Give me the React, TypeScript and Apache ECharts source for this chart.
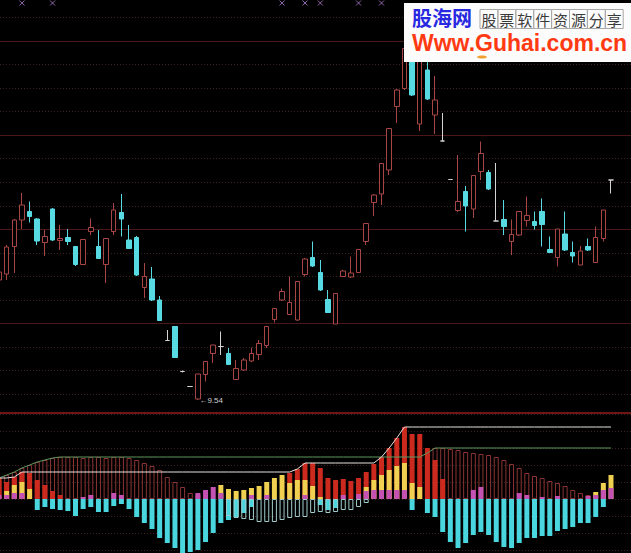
import React, { useEffect, useRef } from "react";
import * as echarts from "echarts";

// ---- Candles (price) ----
const days = Array.from({ length: 81 }, (_, i) => `D${i + 1}`);

const open = [11.94, 12.06, 12.61, 13.14, 13.31, 13.16, 12.69, 13.36, 12.73, 12.79,
  12.61, 12.25, 12.91, 12.61, 12.25, 12.91, 13.29, 12.74, 12.79, 11.79,
  11.96, 11.54, 10.73, 11.01, 10.11, 9.81, 9.56, 10.05, 10.47, 10.61,
  10.47, 9.95, 10.14, 10.32, 10.45, 10.63, 11.15, 11.54, 11.25, 11.14,
  12.05, 12.39, 12.09, 11.55, 11.06, 12.01, 12.0, 12.09, 12.71, 13.49,
  13.66, 14.14, 15.41, 15.77, 16.44, 15.06, 16.14, 15.24, 14.72, 13.95,
  13.33, 13.71, 13.36, 14.11, 14.09, 13.12, 13.15, 12.71, 12.84, 13.13,
  13.11, 13.31, 12.55, 12.39, 12.86, 12.49, 12.24, 12.61, 12.29, 12.77,
  13.94];
const close = [12.1, 12.6, 13.14, 13.44, 13.21, 12.72, 12.81, 12.74, 12.77, 12.71,
  12.25, 12.75, 12.99, 12.37, 12.77, 13.34, 13.16, 12.57, 12.04, 12.01,
  11.54, 11.13, 10.73, 10.39, 10.11, 9.81, 10.06, 10.31, 10.64, 10.61,
  10.25, 10.17, 10.34, 10.47, 10.67, 11.01, 11.37, 11.71, 11.49, 11.91,
  12.36, 12.22, 11.74, 11.29, 11.67, 12.12, 12.08, 12.55, 13.07, 13.64,
  14.27, 14.97, 15.74, 16.57, 15.64, 16.74, 15.56, 15.54, 14.72, 13.95,
  13.51, 13.42, 14.03, 14.47, 13.76, 13.12, 13.01, 12.85, 13.31, 13.23,
  13.03, 13.05, 12.49, 12.96, 12.54, 12.42, 12.52, 12.54, 12.79, 13.34,
  13.94];
const low = [11.9, 11.94, 12.08, 12.96, 13.09, 12.64, 12.42, 12.72, 12.54, 12.64,
  12.22, 12.24, 12.84, 12.36, 11.88, 12.84, 12.81, 12.56, 12.02, 11.58,
  11.52, 11.12, 10.73, 10.38, 10.09, 9.81, 9.54, 9.91, 10.28, 10.44,
  10.24, 9.94, 10.12, 10.3, 10.34, 10.58, 11.09, 11.52, 11.24, 11.12,
  12.01, 12.2, 11.72, 11.28, 11.06, 12.0, 11.98, 12.08, 12.64, 13.22,
  13.44, 14.04, 15.08, 15.74, 15.62, 14.92, 15.54, 14.86, 14.72, 13.95,
  13.3, 12.91, 13.18, 13.94, 13.74, 13.12, 12.84, 12.44, 12.82, 13.01,
  12.95, 12.61, 12.48, 12.21, 12.52, 12.29, 12.24, 12.52, 12.28, 12.71,
  13.67];
const high = [12.14, 12.64, 13.16, 13.68, 13.51, 13.18, 12.94, 13.38, 13.04, 12.96,
  12.62, 12.76, 13.17, 12.94, 12.78, 13.48, 13.66, 13.04, 12.82, 12.28,
  12.2, 11.62, 10.94, 11.02, 10.13, 9.81, 10.06, 10.32, 10.64, 10.91,
  10.58, 10.34, 10.38, 10.59, 10.74, 11.02, 11.38, 11.77, 12.01, 11.92,
  12.38, 12.71, 12.34, 11.74, 11.68, 12.14, 12.41, 12.56, 13.08, 13.66,
  14.28, 14.98, 15.76, 16.6, 16.54, 16.94, 16.44, 16.02, 15.28, 13.95,
  14.44, 13.82, 14.04, 14.71, 14.14, 14.28, 13.54, 13.15, 13.32, 13.61,
  13.31, 13.57, 12.81, 12.96, 13.31, 12.71, 12.62, 12.77, 13.01, 13.34,
  13.94];

// top-edge signal marks
const markerIdx = [3, 7, 37, 40, 42, 47, 50];
const markerPrice = [17.48, 17.48, 17.48, 17.48, 17.48, 17.48, 17.48];

// ---- Indicator panel ----
const hollowRed = [0.21, 0.24, 0.27, 0.31, 0.34, 0.37, 0.39, 0.41, 0.42, 0.42,
  0.42, 0.41, 0.42, 0.42, 0.41, 0.42, 0.42, 0.41, 0.39, 0.36,
  0.33, 0.29, 0.22, 0.17, 0.12, 0.06, 0.04, null, null, null,
  null, null, null, null, null, null, null, null, null, null,
  null, null, null, null, null, null, null, null, null, null,
  null, null, null, null, null, null, 0.46, 0.51, 0.51, 0.5,
  0.49, 0.47, 0.46, 0.45, 0.44, 0.42, 0.39, 0.35, 0.31, 0.26,
  0.23, 0.21, 0.18, 0.16, 0.13, 0.09, 0.06, 0.04, 0.04, null,
  null];
const redFill = [0.21, 0.17, 0.22, 0.27, 0.26, 0.19, 0.14, 0.08, 0.04, null,
  null, null, null, null, null, null, null, null, null, null,
  null, null, null, null, null, null, null, null, null, null,
  null, null, null, null, null, null, null, null, 0.26, 0.3,
  0.36, 0.36, 0.31, 0.21, 0.19, 0.2, 0.18, 0.21, 0.27, 0.35,
  0.42, 0.51, 0.61, 0.72, 0.65, 0.65, 0.51, 0.39, 0.2, null,
  null, null, null, null, null, null, null, null, null, null,
  null, null, null, null, null, null, null, null, null, null,
  null];
const yellowBar = [null, 0.08, 0.14, 0.17, 0.1, null, null, null, null, null,
  null, null, null, null, null, null, null, null, null, null,
  null, null, null, null, null, null, null, null, null, 0.14,
  0.1, 0.08, 0.09, 0.11, 0.13, 0.17, 0.21, 0.24, 0.16, 0.19,
  0.19, 0.13, 0.02, null, null, null, null, null, 0.12, 0.19,
  0.24, 0.29, 0.33, 0.36, 0.16, 0.12, null, null, null, null,
  null, null, null, null, null, null, null, null, null, null,
  null, null, null, null, null, null, null, null, 0.07, 0.16,
  0.24];
const magentaBar = [0.04, 0.04, 0.06, 0.06, null, null, null, null, null, null,
  null, 0.02, 0.04, null, null, 0.06, 0.04, null, null, null,
  null, null, null, null, null, null, 0.06, 0.09, 0.12, 0.06,
  null, null, null, 0.04, null, 0.04, null, null, null, null,
  0.04, null, null, null, null, 0.04, null, 0.05, 0.08, 0.09,
  0.09, 0.09, 0.09, 0.09, null, null, null, null, null, null,
  null, null, 0.09, 0.12, null, null, null, null, 0.06, 0.04,
  null, 0.02, null, 0.03, null, null, null, 0.03, 0.04, 0.09,
  0.11];
const cyanBar = [null, null, null, null, null, -0.11, -0.08, -0.1, -0.11, -0.12,
  -0.17, -0.1, -0.08, -0.13, -0.13, -0.07, -0.05, -0.1, -0.18, -0.24,
  -0.3, -0.39, -0.44, -0.49, -0.57, -0.53, -0.51, -0.43, -0.34, -0.24,
  -0.21, -0.18, -0.14, -0.08, null, null, null, null, null, null,
  null, null, -0.06, -0.11, -0.09, null, null, null, null, null,
  null, null, null, null, -0.11, null, -0.14, -0.18, -0.33, -0.43,
  -0.49, -0.44, -0.36, -0.33, -0.36, -0.43, -0.48, -0.49, -0.44, -0.39,
  -0.39, -0.37, -0.37, -0.32, -0.3, -0.28, -0.24, -0.24, -0.18, -0.08,
  null];
const hollowCyan = [null, null, null, null, null, null, null, null, null, null,
  null, null, null, null, null, null, null, null, null, null,
  null, null, null, null, null, null, null, null, null, null,
  -0.17, -0.19, -0.2, -0.21, -0.23, -0.23, -0.23, -0.21, -0.19, -0.18,
  -0.18, -0.14, -0.13, -0.14, -0.13, -0.11, -0.11, -0.08, -0.04, null,
  null, null, null, null, null, null, null, null, null, null,
  null, null, null, null, null, null, null, null, null, null,
  null, null, null, null, null, null, null, null, null, null,
  null];

const logoTitle = "股海网";
const logoCells = "股票软件资源分享".split("");
const logoUrl = "Www.Guhai.com.cn";

const cumMax = (arr: (number | null)[]) => {
  let m = -Infinity;
  return arr.map((v) => {
    if (v != null && v > m) m = v;
    return m === -Infinity ? null : m;
  });
};

const GL = -4.825;
const GW = 619.65;
const hiddenAxisParts = { axisLine: { show: false }, axisTick: { show: false }, axisLabel: { show: false } };

function buildOption() {
  const lowIdx = low.indexOf(Math.min(...low));
  const barBase = { xAxisIndex: 1, yAxisIndex: 1, barWidth: 5, barGap: "-100%" };
  const cellW = 17.9;
  const cellX0 = 480;
  const graphics: any[] = [
    { type: "line", z: 50, shape: { x1: 0, y1: 413, x2: 631, y2: 413 }, style: { stroke: "#6e1616", lineWidth: 2 } },
    { type: "rect", z: 100, shape: { x: 404, y: 3, width: 227, height: 59 }, style: { fill: "#fcfcfc" } },
    { type: "ellipse", z: 101, shape: { cx: 482, cy: 57, rx: 5, ry: 1.5 }, style: { fill: "#f0a030" } },
    {
      type: "text", z: 101, x: 412, y: 18.5,
      style: {
        text: logoTitle, font: 'bold 20px "Liberation Sans", "Noto Sans CJK SC"', lineHeight: 20, fill: "#2828e0",
        textVerticalAlign: "middle", verticalAlign: "middle",
      },
    },
    {
      type: "text", z: 101, x: 412, y: 43,
      style: {
        text: logoUrl, font: 'bold 23px "Liberation Sans"', lineHeight: 20, fill: "#ff3a12",
        textVerticalAlign: "middle", verticalAlign: "middle",
      },
    },
  ];
  logoCells.forEach((c, k) => {
    graphics.push({
      type: "rect", z: 101,
      shape: { x: cellX0 + k * cellW, y: 9.5, width: cellW, height: 19 },
      style: { fill: "none", stroke: "#a8a8a8", lineWidth: 1 },
    });
    graphics.push({
      type: "text", z: 102, x: cellX0 + k * cellW + cellW / 2, y: 19,
      style: {
        text: c, font: '15px "Noto Sans CJK SC"', lineHeight: 16, fill: "#3a3a3a",
        textAlign: "center", align: "center", textVerticalAlign: "middle", verticalAlign: "middle",
      },
    });
  });

  return {
    backgroundColor: "#000000",
    animation: false,
    grid: [
      { left: GL, width: GW, top: -6, height: 426, outerBoundsMode: "none" },
      { left: GL, width: GW, top: 414, height: 139, outerBoundsMode: "none" },
      { left: 0, right: 0, top: -6, height: 400, outerBoundsMode: "none" },
      { left: 0, right: 0, top: 41.06, height: 282.35, outerBoundsMode: "none" },
      { left: 0, right: 0, top: 414, height: 136, outerBoundsMode: "none" },
    ],
    xAxis: [
      { type: "category", gridIndex: 0, data: days, show: false },
      { type: "category", gridIndex: 1, data: days, show: false },
      { type: "value", gridIndex: 2, min: 0, max: 1, show: false },
      { type: "value", gridIndex: 3, min: 0, max: 1, show: false },
      { type: "value", gridIndex: 4, min: 0, max: 1, show: false },
    ],
    yAxis: [
      { type: "value", gridIndex: 0, min: 9.14, max: 17.66, show: false },
      { type: "value", gridIndex: 1, min: -0.54, max: 0.85, show: false },
      {
        type: "value", gridIndex: 2, min: 0, max: 17, interval: 1, ...hiddenAxisParts,
        splitLine: { show: true, lineStyle: { color: "#3e2222", width: 1, type: [1, 2] } },
      },
      {
        type: "value", gridIndex: 3, min: 0, max: 12, interval: 4, ...hiddenAxisParts,
        splitLine: { show: true, lineStyle: { color: "#4a1818", width: 1, type: "solid" } },
      },
      {
        type: "value", gridIndex: 4, min: 0, max: 8, interval: 1, ...hiddenAxisParts,
        splitLine: { show: true, lineStyle: { color: "#3e2222", width: 1, type: [1, 2] } },
      },
    ],
    graphic: graphics,
    series: [
      {
        type: "candlestick",
        xAxisIndex: 0,
        yAxisIndex: 0,
        barWidth: 5,
        clip: false,
        data: days.map((_, i) => [open[i], close[i], low[i], high[i]]),
        itemStyle: {
          color: "#000000",
          color0: "#58dae2",
          borderColor: "#a84646",
          borderColor0: "#58dae2",
          borderColorDoji: "#d4d4d4",
          borderWidth: 1,
        },
        markPoint: {
          symbol: "circle",
          symbolSize: 1,
          itemStyle: { color: "rgba(0,0,0,0)" },
          data: [{ coord: [days[lowIdx], low[lowIdx]], value: low[lowIdx] }],
          label: {
            show: true,
            position: "right",
            distance: 1,
            formatter: (p: any) => "←" + Number(p.value).toFixed(2),
            color: "#d0d0d0",
            fontSize: 8,
            fontFamily: "Liberation Sans, DejaVu Sans",
          },
        },
      },
      {
        type: "scatter",
        xAxisIndex: 0,
        yAxisIndex: 0,
        symbol: "path://M0,0L4,4M4,0L0,4",
        symbolSize: 5,
        itemStyle: { color: "rgba(0,0,0,0)", borderColor: "#b07ad0", borderWidth: 1 },
        data: markerIdx.map((i, k) => [i, markerPrice[k]]),
      },
      { ...barBase, type: "bar", data: hollowRed, itemStyle: { color: "rgba(0,0,0,0)", borderColor: "#8c3434", borderWidth: 1 } },
      { ...barBase, type: "bar", data: redFill, itemStyle: { color: "#cc2a1e" } },
      { ...barBase, type: "bar", data: yellowBar, itemStyle: { color: "#f0d050" } },
      { ...barBase, type: "bar", data: magentaBar, itemStyle: { color: "#c452b2" } },
      { ...barBase, type: "bar", data: cyanBar, itemStyle: { color: "#4ad6de" } },
      { ...barBase, type: "bar", data: hollowCyan, itemStyle: { color: "rgba(0,0,0,0)", borderColor: "#a2cccc", borderWidth: 1 } },
      {
        type: "line", xAxisIndex: 1, yAxisIndex: 1, data: cumMax(hollowRed), showSymbol: false, z: 3,
        lineStyle: { color: "#5f985f", width: 1 },
      },
      {
        type: "line", xAxisIndex: 1, yAxisIndex: 1, data: cumMax(redFill), showSymbol: false, z: 3,
        lineStyle: { color: "#e8e2e2", width: 1 },
      },
    ],
  };
}

export default function App() {
  const ref = useRef<HTMLDivElement>(null);
  useEffect(() => {
    if (!ref.current) return;
    const chart = echarts.init(ref.current, null, { renderer: "svg", width: 631, height: 553 });
    chart.setOption(buildOption() as any);
    return () => chart.dispose();
  }, []);
  return (
    <div
      ref={ref}
      style={{ position: "fixed", left: 0, top: 0, width: 631, height: 553, background: "#000" }}
    />
  );
}
